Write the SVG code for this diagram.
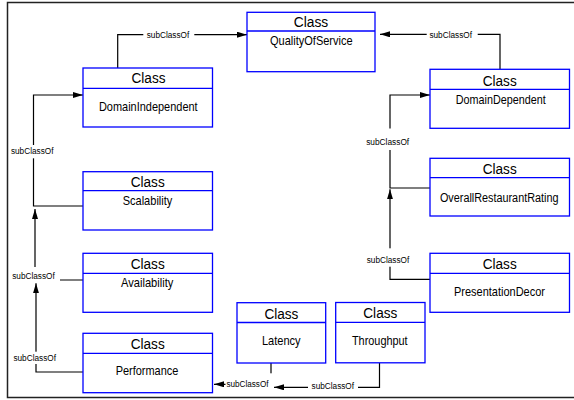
<svg xmlns="http://www.w3.org/2000/svg" width="574" height="400" viewBox="0 0 574 400">
<style>
.box{fill:#fff;stroke:#0000ff;stroke-width:1.3}
.div{stroke:#0000ff;stroke-width:1.3}
.hd{font-family:"Liberation Sans",Arial,sans-serif;font-size:15.5px;fill:#000;text-anchor:middle}
.nm{font-family:"Liberation Sans",Arial,sans-serif;font-size:13px;fill:#000;text-anchor:middle}
.con{fill:none;stroke:#000;stroke-width:1.2}
.lbg{fill:#fff;stroke:none}
.lbl{font-family:"Liberation Sans",Arial,sans-serif;font-size:8.5px;fill:#000;text-anchor:middle}
</style>
<defs>
<marker id="arr" markerUnits="userSpaceOnUse" markerWidth="10" markerHeight="6" refX="10" refY="3" orient="auto">
<path d="M0,0 L10,3 L0,6 z" fill="#000"/>
</marker>
</defs>
<rect x="0" y="0" width="574" height="400" fill="#fff"/>
<path d="M580,2.5 H7.5 V397.5 H580" fill="none" stroke="#222" stroke-width="1.5"/>

<g id="connectors">
<path class="con" d="M117.7,68 V34.7 H247" marker-end="url(#arr)"/>
<path class="con" d="M500,69 V34.3 H380" marker-end="url(#arr)"/>
<path class="con" d="M83,206 H33.5 V95 H83" marker-end="url(#arr)"/>
<path class="con" d="M83,280 H35 V209" marker-end="url(#arr)"/>
<path class="con" d="M83,372 H36 V283.3" marker-end="url(#arr)"/>
<path class="con" d="M271,363 V384.3 H214" marker-end="url(#arr)"/>
<path class="con" d="M379.5,363 V387.3 H274" marker-end="url(#arr)"/>
<path class="con" d="M430,188 H390 V95 H430" marker-end="url(#arr)"/>
<path class="con" d="M430,279.3 H390 V189.3" marker-end="url(#arr)"/>
<rect class="lbg" x="143.3" y="29" width="51" height="11"/>
<text class="lbl" x="168" y="37.7" textLength="42.5" lengthAdjust="spacingAndGlyphs">subClassOf</text>
<rect class="lbg" x="426.7" y="29" width="51" height="11"/>
<text class="lbl" x="450.7" y="38" textLength="42.5" lengthAdjust="spacingAndGlyphs">subClassOf</text>
<rect class="lbg" x="10" y="145" width="45" height="13.3"/>
<text class="lbl" x="32.2" y="154" textLength="42.5" lengthAdjust="spacingAndGlyphs">subClassOf</text>
<rect class="lbg" x="9" y="267" width="51" height="15"/>
<text class="lbl" x="33.5" y="279.3" textLength="42.5" lengthAdjust="spacingAndGlyphs">subClassOf</text>
<rect class="lbg" x="10" y="351.7" width="49" height="12.3"/>
<text class="lbl" x="34.7" y="361" textLength="42.5" lengthAdjust="spacingAndGlyphs">subClassOf</text>
<rect class="lbg" x="225.5" y="373.3" width="47.5" height="18.7"/>
<text class="lbl" x="247.5" y="386.5" textLength="42" lengthAdjust="spacingAndGlyphs">subClassOf</text>
<rect class="lbg" x="308" y="381" width="50" height="12"/>
<text class="lbl" x="332.8" y="389.3" textLength="42.5" lengthAdjust="spacingAndGlyphs">subClassOf</text>
<rect class="lbg" x="364" y="128.5" width="48" height="21.5"/>
<text class="lbl" x="387.7" y="145" textLength="43" lengthAdjust="spacingAndGlyphs">subClassOf</text>
<rect class="lbg" x="364" y="248.3" width="48" height="18.4"/>
<text class="lbl" x="388" y="262.7" textLength="42.5" lengthAdjust="spacingAndGlyphs">subClassOf</text>
</g>

<g id="QualityOfService">
<rect class="box" x="247" y="12.3" width="128" height="59.4"/>
<line class="div" x1="247" y1="31" x2="375" y2="31"/>
<text class="hd" x="311" y="27" textLength="34.5" lengthAdjust="spacingAndGlyphs">Class</text>
<text class="nm" x="311.3" y="45.3" textLength="82.7" lengthAdjust="spacingAndGlyphs">QualityOfService</text>
</g>
<g id="DomainIndependent">
<rect class="box" x="83" y="68" width="129.5" height="59"/>
<line class="div" x1="83" y1="88.3" x2="212.5" y2="88.3"/>
<text class="hd" x="148.5" y="83" textLength="34" lengthAdjust="spacingAndGlyphs">Class</text>
<text class="nm" x="148.3" y="111" textLength="98.7" lengthAdjust="spacingAndGlyphs">DomainIndependent</text>
</g>
<g id="DomainDependent">
<rect class="box" x="430" y="69.3" width="139.5" height="59"/>
<line class="div" x1="430" y1="89.3" x2="569.5" y2="89.3"/>
<text class="hd" x="499.7" y="85.5" textLength="34" lengthAdjust="spacingAndGlyphs">Class</text>
<text class="nm" x="500.7" y="103.7" textLength="90" lengthAdjust="spacingAndGlyphs">DomainDependent</text>
</g>
<g id="Scalability">
<rect class="box" x="83" y="171.7" width="129.5" height="58.3"/>
<line class="div" x1="83" y1="190.7" x2="212.5" y2="190.7"/>
<text class="hd" x="147.7" y="186.5" textLength="34" lengthAdjust="spacingAndGlyphs">Class</text>
<text class="nm" x="147.5" y="204.7" textLength="49.7" lengthAdjust="spacingAndGlyphs">Scalability</text>
</g>
<g id="OverallRestaurantRating">
<rect class="box" x="430" y="158.3" width="139.5" height="57.7"/>
<line class="div" x1="430" y1="177.7" x2="569.5" y2="177.7"/>
<text class="hd" x="499.7" y="173.5" textLength="34" lengthAdjust="spacingAndGlyphs">Class</text>
<text class="nm" x="499.2" y="201.5" style="font-size:12.3px" textLength="118.5" lengthAdjust="spacingAndGlyphs">OverallRestaurantRating</text>
</g>
<g id="Availability">
<rect class="box" x="83" y="253.3" width="129.5" height="59"/>
<line class="div" x1="83" y1="273.3" x2="212.5" y2="273.3"/>
<text class="hd" x="147.7" y="269.2" textLength="34" lengthAdjust="spacingAndGlyphs">Class</text>
<text class="nm" x="147.2" y="286.7" textLength="52.3" lengthAdjust="spacingAndGlyphs">Availability</text>
</g>
<g id="PresentationDecor">
<rect class="box" x="430" y="253.3" width="139.5" height="59"/>
<line class="div" x1="430" y1="273.3" x2="569.5" y2="273.3"/>
<text class="hd" x="499.7" y="269.2" textLength="34" lengthAdjust="spacingAndGlyphs">Class</text>
<text class="nm" x="499.5" y="295.7" textLength="91" lengthAdjust="spacingAndGlyphs">PresentationDecor</text>
</g>
<g id="Latency">
<rect class="box" x="237" y="302.7" width="88.7" height="60.3"/>
<line class="div" x1="237" y1="322.5" x2="325.7" y2="322.5"/>
<text class="hd" x="281.4" y="318.5" textLength="34" lengthAdjust="spacingAndGlyphs">Class</text>
<text class="nm" x="281.3" y="345.3" textLength="38.7" lengthAdjust="spacingAndGlyphs">Latency</text>
</g>
<g id="Throughput">
<rect class="box" x="335.7" y="302.5" width="89.3" height="60.3"/>
<line class="div" x1="335.7" y1="322.3" x2="425" y2="322.3"/>
<text class="hd" x="380.3" y="318.3" textLength="34" lengthAdjust="spacingAndGlyphs">Class</text>
<text class="nm" x="379.8" y="345" textLength="55.7" lengthAdjust="spacingAndGlyphs">Throughput</text>
</g>
<g id="Performance">
<rect class="box" x="83" y="333.3" width="129.5" height="59.4"/>
<line class="div" x1="83" y1="353.3" x2="212.5" y2="353.3"/>
<text class="hd" x="147.7" y="349.2" textLength="34" lengthAdjust="spacingAndGlyphs">Class</text>
<text class="nm" x="147" y="375.3" textLength="62.7" lengthAdjust="spacingAndGlyphs">Performance</text>
</g>
</svg>
